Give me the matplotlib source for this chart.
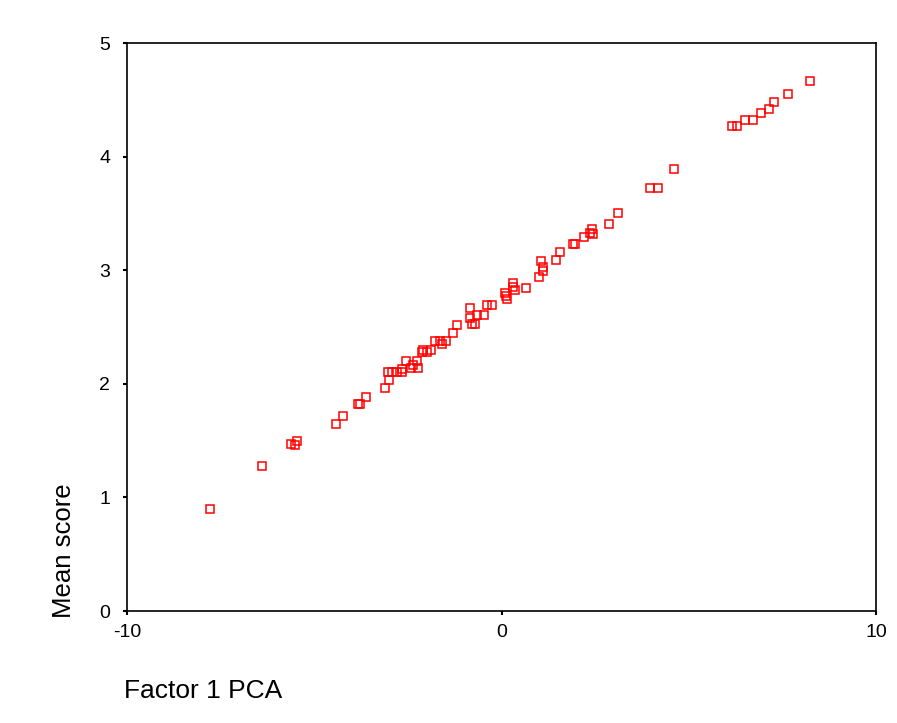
"""Scatter of mean score against the first PCA factor."""

import matplotlib
matplotlib.use("Agg")
import matplotlib.pyplot as plt

# factor 1 scores and matching mean scores
factor1 = [
    -7.78, -6.39, -5.62, -5.47, -5.52, -4.42, -4.23, -3.83, -3.78, -3.62,
    -3.11, -3.00, -3.03, -2.92, -2.79, -2.66, -2.66, -2.55, -2.42, -2.36,
    -2.26, -2.22, -2.12, -2.09, -1.98, -1.88, -1.78, -1.64, -1.59, -1.48,
    -1.30, -1.19, -0.84, -0.84, -0.79, -0.71, -0.65, -0.47, -0.39, -0.25,
    0.09, 0.15, 0.12, 0.31, 0.31, 0.36, 0.65, 1.00, 1.11, 1.11,
    1.05, 1.46, 1.56, 1.91, 1.96, 2.20, 2.36, 2.42, 2.44, 2.87,
    3.11, 3.97, 4.18, 4.61, 6.15, 6.29, 6.50, 6.72, 6.93, 7.14,
    7.28, 7.65, 8.24,
]
mean_score = [
    0.90, 1.28, 1.47, 1.50, 1.46, 1.65, 1.72, 1.82, 1.82, 1.88,
    1.96, 2.03, 2.10, 2.10, 2.10, 2.10, 2.13, 2.20, 2.14, 2.17,
    2.20, 2.14, 2.28, 2.30, 2.28, 2.30, 2.38, 2.38, 2.35, 2.38,
    2.45, 2.52, 2.67, 2.58, 2.53, 2.53, 2.61, 2.61, 2.69, 2.69,
    2.80, 2.75, 2.77, 2.85, 2.89, 2.83, 2.84, 2.94, 2.99, 3.03,
    3.08, 3.09, 3.16, 3.23, 3.23, 3.29, 3.33, 3.36, 3.32, 3.41,
    3.50, 3.72, 3.72, 3.89, 4.27, 4.27, 4.32, 4.32, 4.38, 4.42,
    4.48, 4.55, 4.67,
]

x_ticks = [-10, 0, 10]
y_ticks = [0, 1, 2, 3, 4, 5]

plt.rcParams["font.family"] = ["Liberation Sans", "DejaVu Sans"]
plt.rcParams["axes.unicode_minus"] = False

fig = plt.figure(figsize=(8.97, 7.23), dpi=100)
ax = fig.add_axes([0.1416, 0.1549, 0.835, 0.7856])

ax.plot(factor1, mean_score, linestyle="none", marker="s", markersize=6,
        markerfacecolor="none", markeredgecolor="#ff0000", markeredgewidth=1.1)

ax.set_xlim(-10, 10)
ax.set_ylim(0, 5)
ax.set_xticks(x_ticks)
ax.set_yticks(y_ticks)
ax.tick_params(direction="out", length=3, width=1.5, labelsize=14,
               colors="black")
ax.tick_params(axis="x", pad=6)
ax.tick_params(axis="y", pad=9)
for side in ax.spines.values():
    side.set_linewidth(1.2)
    side.set_color("black")

# axis titles sit outside the frame, SPSS style
fig.text(0.071, 0.145, "Mean score", rotation=90, ha="center", va="bottom",
         fontsize=18.5)
fig.text(0.138, 0.028, "Factor 1 PCA", ha="left", va="bottom", fontsize=19)

fig.savefig("out.png", dpi=100)
